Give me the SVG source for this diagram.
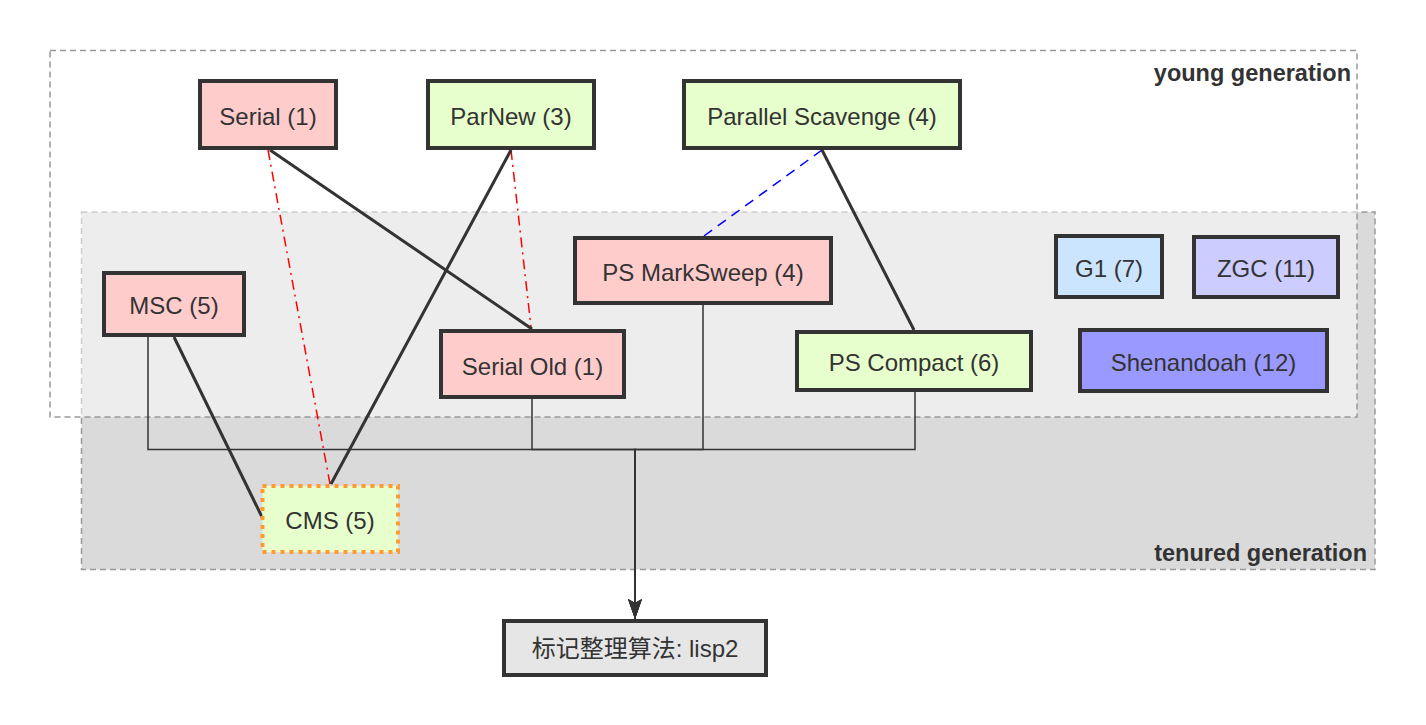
<svg xmlns="http://www.w3.org/2000/svg" width="1426" height="725" viewBox="0 0 1426 725">
<style>
  .region { stroke: #999; stroke-width: 1.5; stroke-dasharray: 6 4; }
  .rlabel { font-family: "Liberation Sans", Arial, sans-serif; font-size: 23.5px; font-weight: bold; fill: #333; text-anchor: end; }
  .node rect { stroke: #333; stroke-width: 4; }
  .node text { font-family: "Liberation Sans", Arial, "Noto Sans CJK SC", sans-serif; font-size: 24px; fill: #333; text-anchor: middle; }
  .red { fill: #ffcccc; }
  .green { fill: #e6ffcc; }
  .thick { stroke: #333; stroke-width: 3; fill: none; }
  .thin { stroke: #333; stroke-width: 1.5; fill: none; }
  .dashdot { stroke: #ff0000; stroke-width: 1.5; stroke-dasharray: 10 5 2 5; fill: none; }
  .bluedash { stroke: #0000ff; stroke-width: 1.5; stroke-dasharray: 10 7; fill: none; }
</style>
<defs>
  <marker id="arrow" viewBox="0 0 20 14" refX="20" refY="7" markerWidth="20" markerHeight="14" markerUnits="userSpaceOnUse" orient="auto">
    <path d="M0,0 L20,7 L0,14 L4,7 Z" fill="#333"/>
  </marker>
</defs>
<rect width="1426" height="725" fill="#ffffff"/>
<g id="tenured-generation">
  <rect class="region" x="81.5" y="212" width="1293.5" height="357.5" fill="#dadada"/>
</g>
<g id="young-generation">
  <rect class="region" x="50" y="50.5" width="1307" height="366.5" fill="#ffffff" fill-opacity="0.5"/>
  <text class="rlabel" x="1351" y="81">young generation</text>
</g>
<text class="rlabel" x="1367" y="561">tenured generation</text>
<g id="connectors">
  <line class="dashdot" x1="268" y1="150" x2="330" y2="484"/>
  <line class="dashdot" x1="511" y1="150" x2="531" y2="327"/>
  <line class="bluedash" x1="822" y1="150" x2="704" y2="236"/>
  <line class="thick" x1="270" y1="150" x2="532" y2="329"/>
  <line class="thick" x1="511" y1="150" x2="331" y2="484"/>
  <line class="thick" x1="822" y1="150" x2="914" y2="330"/>
  <line class="thick" x1="174" y1="337" x2="262" y2="517"/>
  <path class="thin" d="M148,337 V449.5 H635 V619" marker-end="url(#arrow)"/>
  <path class="thin" d="M532,399 V449.5 H635 V619" marker-end="url(#arrow)"/>
  <path class="thin" d="M703,305 V449.5 H635 V619" marker-end="url(#arrow)"/>
  <path class="thin" d="M915,392 V449.5 H635 V619" marker-end="url(#arrow)"/>
</g>
<g id="serial" class="node">
  <rect class="red" x="200" y="81" width="136" height="67"/>
  <text x="268" y="125">Serial (1)</text>
</g>
<g id="parnew" class="node">
  <rect class="green" x="428" y="81" width="166" height="67"/>
  <text x="511" y="125">ParNew (3)</text>
</g>
<g id="parallel-scavenge" class="node">
  <rect class="green" x="684" y="81" width="276" height="67"/>
  <text x="822" y="125">Parallel Scavenge (4)</text>
</g>
<g id="msc" class="node">
  <rect class="red" x="104" y="273" width="140" height="62"/>
  <text x="174" y="314">MSC (5)</text>
</g>
<g id="ps-marksweep" class="node">
  <rect class="red" x="575" y="238" width="256" height="65"/>
  <text x="703" y="281">PS MarkSweep (4)</text>
</g>
<g id="serial-old" class="node">
  <rect class="red" x="441" y="331" width="183" height="66"/>
  <text x="532.5" y="375">Serial Old (1)</text>
</g>
<g id="ps-compact" class="node">
  <rect class="green" x="797" y="332" width="234" height="58"/>
  <text x="914" y="371">PS Compact (6)</text>
</g>
<g id="g1" class="node">
  <rect x="1056" y="236" width="106" height="61" fill="#cce5ff"/>
  <text x="1109" y="277">G1 (7)</text>
</g>
<g id="zgc" class="node">
  <rect x="1194" y="237" width="144" height="60" fill="#ccccff"/>
  <text x="1266" y="277">ZGC (11)</text>
</g>
<g id="shenandoah" class="node">
  <rect x="1080" y="330" width="247" height="61" fill="#9999ff"/>
  <text x="1203.5" y="371">Shenandoah (12)</text>
</g>
<g id="cms" class="node">
  <rect class="green" x="262.5" y="486" width="135.5" height="66" style="stroke:#ff9933;stroke-width:4;stroke-dasharray:4 5"/>
  <text x="330" y="529">CMS (5)</text>
</g>
<g id="lisp2" class="node">
  <rect x="504" y="621" width="262" height="54" fill="#e6e6e6"/>
  <text x="635" y="657">标记整理算法: lisp2</text>
</g>
</svg>
